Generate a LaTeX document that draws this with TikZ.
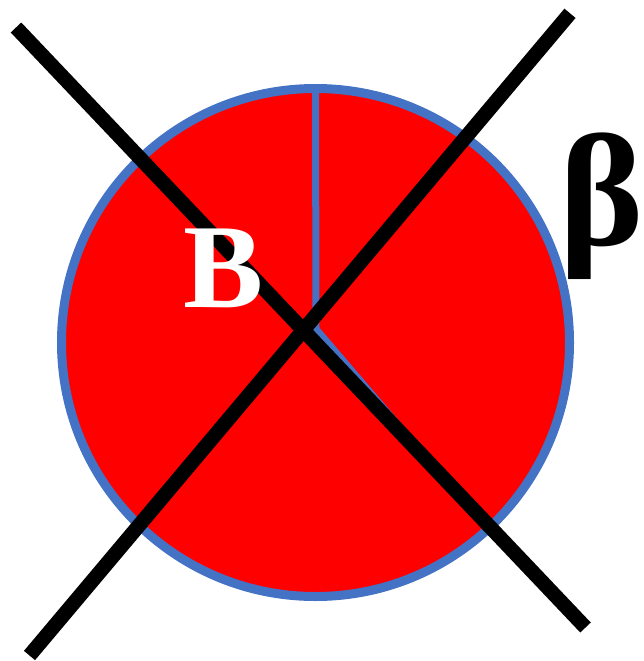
\documentclass[tikz,border=0pt]{standalone}
\usepackage{fontspec}
\setmainfont{Liberation Serif}
\usetikzlibrary{positioning}
\definecolor{pieblue}{HTML}{4472C4}
\tikzset{
  cross/.style={line width=14.5pt,black},
  bigletter/.style={inner sep=0pt,anchor=base,font=\bfseries\fontsize{#1}{#1}\selectfont}
}
\begin{document}
\begin{tikzpicture}[x=1pt,y=-1pt]
\useasboundingbox (0,0) rectangle (644,661);
% the disc and its wedge
\coordinate (mid) at (315.5,342.5);
\coordinate (top) at (315.5,88);
\coordinate (tip) at (316,329);
\coordinate (rim) at (487,529);
\fill[red] (mid) circle[radius=254];
\draw[pieblue,line width=7pt] (top) -- (tip) -- (rim);
\draw[pieblue,line width=9pt] (mid) circle[radius=254];
% the cross
\coordinate (nw) at (16,27.5);
\coordinate (se) at (585.5,627.5);
\coordinate (sw) at (29.5,655.5);
\coordinate (ne) at (570,13.3);
\draw[cross] (nw) -- (se);
\draw[cross] (sw) -- (ne);
% letters
\node[bigletter=120,text=white] (bee) at (223.5,307) {B};
\node[bigletter=160] (beta) at (602,245) {β};
\end{tikzpicture}
\end{document}
